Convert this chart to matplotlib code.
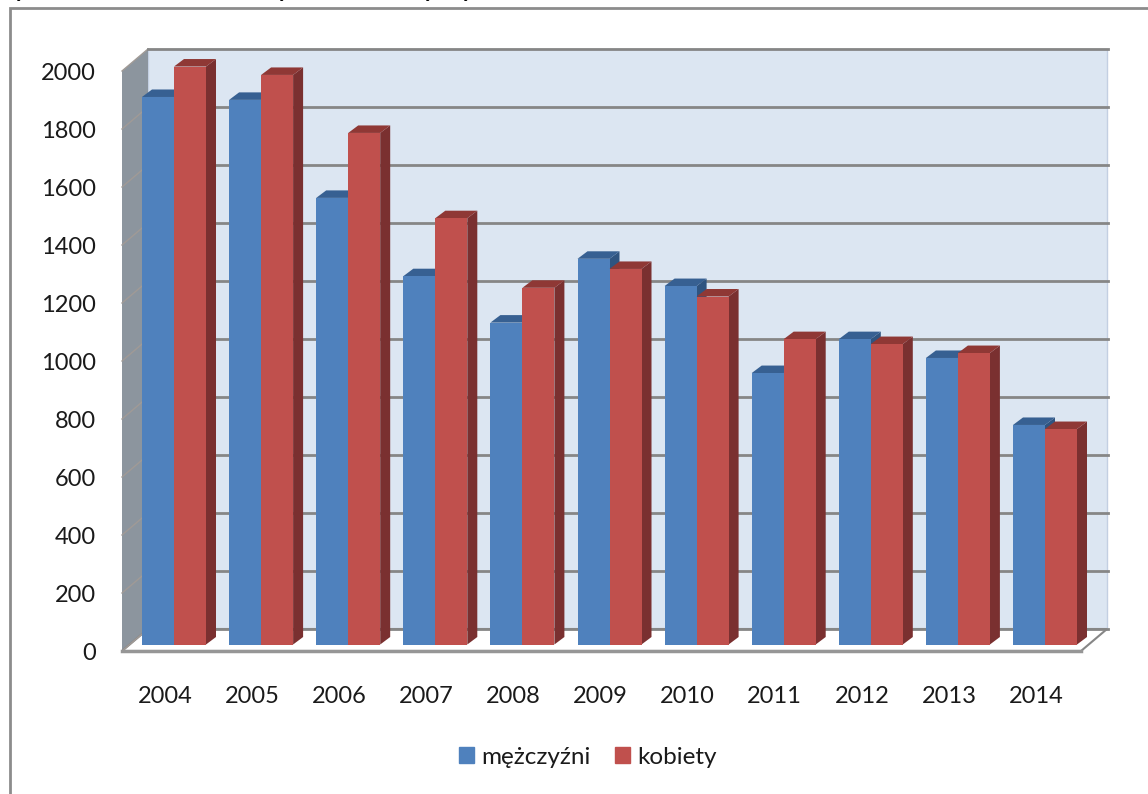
import numpy as np
import matplotlib
matplotlib.use("Agg")
import matplotlib.pyplot as plt
from matplotlib.patches import Patch, Polygon, Rectangle

years = ["2004", "2005", "2006", "2007", "2008", "2009", "2010", "2011", "2012", "2013", "2014"]
men = [1888, 1878, 1540, 1270, 1110, 1330, 1236, 936, 1053, 988, 757]
women = [1993, 1964, 1764, 1470, 1230, 1295, 1200, 1053, 1036, 1005, 743]
y_ticks = list(range(0, 2001, 200))

W, H = 1148, 794
PITCH = 87.1
UNIT = 0.29  # pixele na jednostke

plt.rcParams["font.family"] = ["Lato", "DejaVu Sans"]
fig = plt.figure(figsize=(W / 100, H / 100), dpi=100)

# ramka wykresu, prawa i dolna krawedz poza obrazkiem
fig.add_artist(Rectangle((10 / W, -0.05), 1.1, (H - 8) / H + 0.05, transform=fig.transFigure,
                         fc="white", ec="#8c8c8c", lw=2, zorder=0))

# resztki ucietego tytulu nad ramka
for tail_x in [21, 284, 430, 468]:
    fig.text(tail_x / W, 1 + 3 / H, "y", fontsize=17, style="italic", weight="bold",
             color="black", ha="center", va="baseline")

# os: wartosc 0 na y=651, pierwsza grupa na srodku x=174
left, right, top, bottom = 100, 1140, 30, 672
ax = fig.add_axes([left / W, 1 - bottom / H, (right - left) / W, (bottom - top) / H], zorder=2)
ax.set_xlim((left - 174) / PITCH, (right - 174) / PITCH)
ax.set_ylim((651 - bottom) / UNIT, (651 - top) / UNIT)
ax.patch.set_visible(False)
for s in ax.spines.values():
    s.set_visible(False)


def px(dx):
    return dx / PITCH


def val(dy):
    return dy / UNIT


wall_dx, wall_dy = 26, 22
x0 = (122 - 174) / PITCH
x1 = (1081 - 174) / PITCH
grid = "#868686"

# tylna sciana
ax.add_patch(Polygon([(x0 + px(wall_dx), val(wall_dy)), (x1 + px(wall_dx), val(wall_dy)),
                      (x1 + px(wall_dx), 2000 + val(wall_dy)), (x0 + px(wall_dx), 2000 + val(wall_dy))],
                     fc="#dce6f2", ec="#c3cfe2", lw=1, zorder=1))
# lewa sciana
ax.add_patch(Polygon([(x0, 0), (x0 + px(wall_dx), val(wall_dy)),
                      (x0 + px(wall_dx), 2000 + val(wall_dy)), (x0, 2000)],
                     fc="#8c959e", ec="none", zorder=1))
# podloga
ax.add_patch(Polygon([(x0, 0), (x1, 0), (x1 + px(wall_dx), val(wall_dy)), (x0 + px(wall_dx), val(wall_dy))],
                     fc="white", ec=grid, lw=1.5, zorder=1))
for v in y_ticks:
    ax.plot([x0, x0 + px(wall_dx)], [v, v + val(wall_dy)], color="#a09a96", lw=1, zorder=2)
    ax.plot([x0 + px(wall_dx), x1 + px(wall_dx) + px(1)],
            [v + val(wall_dy), v + val(wall_dy)], color=grid, lw=2, zorder=2)
ax.plot([x0, x1], [0, 0], color="#969696", lw=2.5, zorder=2)

# slupki z bokiem i gora
bar_dx, bar_dy = 10, 7.5
base = val(6.5)
w = 32 / PITCH
pos = np.arange(len(years))
for offs, vals, front, lid, side in [(-w / 2, men, "#4f81bd", "#376092", "#2f5480"),
                                     (w / 2, women, "#c0504d", "#8f3835", "#7a3030")]:
    for p, v in zip(pos + offs, vals):
        xl, xr = p - w / 2, p + w / 2
        ax.add_patch(Polygon([(xr, base), (xr + px(bar_dx), base + val(bar_dy)),
                              (xr + px(bar_dx), base + v + val(bar_dy)), (xr, base + v)],
                             fc=side, ec="none", zorder=3))
        ax.add_patch(Polygon([(xl, base + v), (xl + px(bar_dx), base + v + val(bar_dy)),
                              (xr + px(bar_dx), base + v + val(bar_dy)), (xr, base + v)],
                             fc=lid, ec="none", zorder=3))
    ax.bar(pos + offs, vals, width=w, bottom=base, color=front, zorder=3)

ax.set_xticks(pos - 9 / PITCH, years)
ax.set_yticks(y_ticks)
ax.tick_params(length=0, labelsize=17, colors="#1a1a1a")
ax.tick_params(axis="y", pad=3)
ax.tick_params(axis="x", pad=10)

handles = [Patch(color="#4f81bd", label="mężczyźni"), Patch(color="#c0504d", label="kobiety")]
fig.legend(handles=handles, ncol=2, frameon=False, fontsize=17.5, loc="center",
           bbox_to_anchor=(588 / W, 1 - 757 / H), handlelength=0.62, handleheight=0.62,
           handletextpad=0.3, columnspacing=1.0, labelcolor="#1a1a1a")

fig.savefig("out.png", dpi=100)
